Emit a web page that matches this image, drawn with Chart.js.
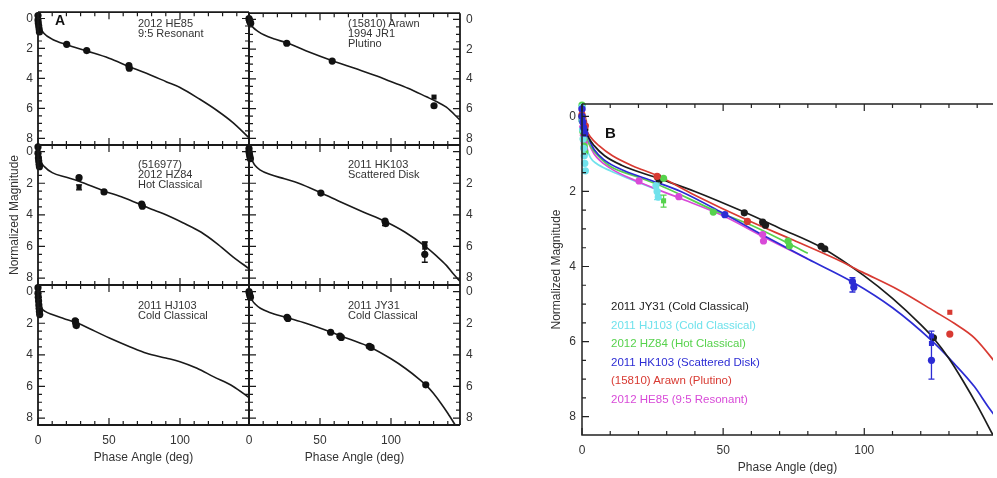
<!DOCTYPE html>
<html><head><meta charset="utf-8">
<script src="https://cdn.jsdelivr.net/npm/chart.js@4.4.0/dist/chart.umd.min.js"></script>
<style>
body{margin:0;background:#fff;}
#wrap{position:relative;width:997px;height:478px;overflow:hidden;font-family:"Liberation Sans",Arial,Helvetica,sans-serif;background:#fff;}
canvas{position:absolute;left:0;top:0;}
.note{position:absolute;font-size:11px;line-height:10px;color:#333;white-space:pre;}
.big{position:absolute;font-weight:bold;color:#111;line-height:1;}
.leg{position:absolute;left:611px;top:297px;font-size:11.5px;line-height:18.6px;white-space:nowrap;}
</style></head><body><div id="wrap">
<canvas id="a0" width="997" height="478"></canvas>
<canvas id="a1" width="997" height="478"></canvas>
<canvas id="a2" width="997" height="478"></canvas>
<canvas id="a3" width="997" height="478"></canvas>
<canvas id="a4" width="997" height="478"></canvas>
<canvas id="a5" width="997" height="478"></canvas>
<canvas id="b0" width="997" height="478"></canvas>
<div class="big" style="left:55px;top:13px;font-size:14px;">A</div>
<div class="big" style="left:605px;top:125px;font-size:15px;">B</div>
<div id="notes"></div>
<div class="leg" id="legend"></div>
</div>
<script>
// ---------- tick labels ----------
const xTicksA = [0, 50, 100];
const xTicksB = [0, 50, 100];
const yTicks = [0, 2, 4, 6, 8];

// ---------- 2011 JY31 (Cold Classical) ----------
const jy31ObsX = [0, 0.3, 0.6, 1.0, 26.8, 27.4, 57.5, 64, 65, 84.7, 86, 124.5];
const jy31ObsY = [0.0, 0.12, 0.25, 0.35, 1.62, 1.7, 2.57, 2.82, 2.9, 3.46, 3.53, 5.9];
const jy31FitX = [0, 0.5, 1.3, 2.5, 4.3, 8, 14, 27, 40, 57.5, 70, 85, 100, 110, 120, 125, 130, 135, 140, 146];
const jy31FitY = [0.0, 0.15, 0.35, 0.58, 0.78, 1.05, 1.3, 1.65, 2.0, 2.55, 2.98, 3.5, 4.25, 4.85, 5.55, 5.95, 6.45, 7.05, 7.7, 8.55];

// ---------- 2011 HJ103 (Cold Classical) ----------
const hj103ObsX = [0, 0, 0.2, 0.4, 0.6, 0.8, 1.0, 1.2, 26.2, 26.6, 27.0];
const hj103ObsY = [-0.25, 0.1, 0.35, 0.6, 0.85, 1.05, 1.25, 1.45, 1.85, 2.0, 2.15];
const hj103FitX = [0, 0.5, 1.5, 3, 5, 10, 18, 26.8, 40, 50.7, 65, 76.5, 90, 100, 112, 123.5, 137.5, 148.5];
const hj103FitY = [-0.2, 0.3, 0.8, 1.1, 1.25, 1.45, 1.7, 1.96, 2.5, 2.95, 3.5, 3.9, 4.2, 4.43, 4.85, 5.38, 6.0, 6.7];
const hj103ErrX = [26.6];
const hj103ErrLo = [1.78];
const hj103ErrHi = [2.22];

// ---------- (516977) 2012 HZ84 (Hot Classical) ----------
const hz84ObsX = [0, 0, 0.3, 0.5, 0.8, 1.0, 28.9, 28.9, 46.5, 73, 73.5];
const hz84ObsY = [-0.3, 0.1, 0.4, 0.6, 0.8, 0.95, 1.65, 2.25, 2.55, 3.32, 3.45];
const hz84Shape = ['circle','circle','circle','circle','circle','circle','circle','rect','circle','circle','circle'];
const hz84FitX = [0, 0.4, 1, 2, 4.3, 10, 20, 28.9, 46.7, 60, 73, 80, 88, 102, 115, 125.8, 137.5, 148.5];
const hz84FitY = [0.0, 0.2, 0.4, 0.65, 0.93, 1.33, 1.62, 1.88, 2.5, 2.9, 3.38, 3.65, 3.92, 4.5, 5.1, 5.8, 6.67, 7.4];
const hz84ErrX = [28.9];
const hz84ErrLo = [2.1];
const hz84ErrHi = [2.42];

// ---------- 2011 HK103 (Scattered Disk) ----------
const hk103ObsX = [0, 0, 0.3, 0.6, 1.0, 50.6, 95.8, 96.3, 123.8, 123.8, 123.8];
const hk103ObsY = [-0.2, 0.0, 0.15, 0.3, 0.45, 2.62, 4.4, 4.55, 5.85, 6.05, 6.5];
const hk103Shape = ['circle','circle','circle','circle','circle','circle','circle','circle','rect','rect','circle'];
const hk103FitX = [0, 0.7, 1.5, 3, 4.3, 7.7, 15, 25, 35, 50.5, 65, 80, 96, 110, 123.5, 132, 139, 144, 148.5];
const hk103FitY = [0.0, 0.15, 0.4, 0.7, 0.88, 1.15, 1.45, 1.72, 2.0, 2.6, 3.2, 3.8, 4.42, 5.1, 5.95, 6.6, 7.2, 7.75, 8.2];
const hk103ErrX = [123.8, 95.8];
const hk103ErrLo = [5.72, 4.3];
const hk103ErrHi = [7.0, 4.68];

// ---------- (15810) Arawn (Plutino) ----------
const arawnObsX = [0, 0.3, 0.6, 1.2, 26.6, 58.6, 130.3, 130.3];
const arawnObsY = [-0.05, 0.05, 0.15, 0.25, 1.6, 2.8, 5.22, 5.8];
const arawnShape = ['circle','circle','circle','circle','circle','circle','rect','circle'];
const arawnFitX = [0, 0.7, 1.5, 3, 6, 10.8, 18, 26.5, 40, 58.7, 75, 90, 99.3, 112, 125, 132, 139, 148.5];
const arawnFitY = [0.0, 0.15, 0.35, 0.55, 0.78, 1.05, 1.32, 1.57, 2.1, 2.77, 3.3, 3.8, 4.15, 4.62, 5.2, 5.52, 5.9, 6.75];

// ---------- 2012 HE85 (9:5 Resonant) ----------
const he85ObsX = [0, 0, 0.2, 0.5, 0.8, 1.0, 20.2, 34.3, 64, 64.3];
const he85ObsY = [-0.2, 0.1, 0.3, 0.5, 0.7, 0.9, 1.72, 2.14, 3.15, 3.32];
const he85FitX = [0, 0.5, 1, 2, 4.3, 10, 20.2, 34.3, 50, 64, 80, 90.6, 100, 114, 125.8, 137.5, 148.5];
const he85FitY = [0.0, 0.2, 0.4, 0.65, 1.0, 1.38, 1.75, 2.17, 2.65, 3.2, 3.8, 4.23, 4.6, 5.39, 6.12, 6.96, 7.95];

// ---------- names / labels ----------
const seriesNames = ['2011 JY31 (Cold Classical)', '2011 HJ103 (Cold Classical)', '2012 HZ84 (Hot Classical)',
                     '2011 HK103 (Scattered Disk)', '(15810) Arawn (Plutino)', '2012 HE85 (9:5 Resonant)'];
const seriesColors = ['#1c1c1c', '#70e2ec', '#56d24c', '#2c2cd4', '#d83a32', '#d84ad8'];
const fitLimitB = [999, 27, 80, 999, 999, 80];
const panelNotes = [['2012 HE85','9:5 Resonant'], ['(15810) Arawn','1994 JR1','Plutino'],
                    ['(516977)','2012 HZ84','Hot Classical'], ['2011 HK103','Scattered Disk'],
                    ['2011 HJ103','Cold Classical'], ['2011 JY31','Cold Classical']];

// ---------- build ----------
const pts = (xs, ys) => xs.map((x, i) => ({x, y: ys[i]}));
const objs = [
  {obs: pts(jy31ObsX, jy31ObsY), fit: pts(jy31FitX, jy31FitY), shape: 'circle', err: null},
  {obs: pts(hj103ObsX, hj103ObsY), fit: pts(hj103FitX, hj103FitY), shape: 'circle', err: {x: hj103ErrX, lo: hj103ErrLo, hi: hj103ErrHi}},
  {obs: pts(hz84ObsX, hz84ObsY), fit: pts(hz84FitX, hz84FitY), shape: hz84Shape, err: {x: hz84ErrX, lo: hz84ErrLo, hi: hz84ErrHi}},
  {obs: pts(hk103ObsX, hk103ObsY), fit: pts(hk103FitX, hk103FitY), shape: hk103Shape, err: {x: hk103ErrX, lo: hk103ErrLo, hi: hk103ErrHi}},
  {obs: pts(arawnObsX, arawnObsY), fit: pts(arawnFitX, arawnFitY), shape: arawnShape, err: null},
  {obs: pts(he85ObsX, he85ObsY), fit: pts(he85FitX, he85FitY), shape: 'circle', err: null}
];
// panel A grid: [objIndex, col, row, noteIndex]
const gridA = [[5,0,0,0],[4,1,0,1],[2,0,1,2],[3,1,1,3],[1,0,2,4],[0,1,2,5]];

const F = '"Liberation Sans", Arial, Helvetica, sans-serif';
Chart.defaults.font.family = F;
Chart.defaults.color = '#333';

function framePlugin(o) {
  return {
    id: 'frame',
    afterDatasetsDraw(chart) {
      const {ctx, chartArea: a} = chart;
      const xs = chart.scales.x, ys = chart.scales.y;
      ctx.save();
      ctx.strokeStyle = o.color;
      ctx.lineWidth = o.tickWidth;
      ctx.beginPath();
      for (let k = Math.ceil(xs.min / o.xMinor - 1e-9); k * o.xMinor <= xs.max + 1e-9; k++) {
        const v = k * o.xMinor, p = xs.getPixelForValue(v);
        const len = (Math.abs(v / o.xMajor - Math.round(v / o.xMajor)) < 1e-6) ? o.majorLen : o.minorLen;
        ctx.moveTo(p, a.bottom); ctx.lineTo(p, a.bottom - len);
        if (o.top) { ctx.moveTo(p, a.top); ctx.lineTo(p, a.top + len); }
      }
      for (let k = Math.ceil(ys.min / o.yMinor - 1e-9); k * o.yMinor <= ys.max + 1e-9; k++) {
        const v = k * o.yMinor, p = ys.getPixelForValue(v);
        const len = (Math.abs(v / o.yMajor - Math.round(v / o.yMajor)) < 1e-6) ? o.majorLen : o.minorLen;
        ctx.moveTo(a.left, p); ctx.lineTo(a.left + len, p);
        if (o.right) { ctx.moveTo(a.right, p); ctx.lineTo(a.right - len, p); }
      }
      ctx.stroke();
      ctx.lineWidth = o.width;
      ctx.beginPath();
      ctx.moveTo(a.left, a.top); ctx.lineTo(a.left, a.bottom); ctx.lineTo(a.right, a.bottom);
      if (o.right) { ctx.moveTo(a.right, a.bottom); ctx.lineTo(a.right, a.top); }
      if (o.top) { ctx.moveTo(a.left, a.top); ctx.lineTo(a.right, a.top); }
      ctx.stroke();
      ctx.restore();
    }
  };
}
function errPlugin(sets) {
  return {
    id: 'errbars',
    afterDatasetsDraw(chart) {
      const {ctx} = chart; const xs = chart.scales.x, ys = chart.scales.y;
      ctx.save();
      sets.forEach(s => {
        ctx.strokeStyle = s.color; ctx.lineWidth = 1.3; ctx.beginPath();
        s.x.forEach((xv, i) => {
          const px = xs.getPixelForValue(xv), p1 = ys.getPixelForValue(s.lo[i]), p2 = ys.getPixelForValue(s.hi[i]);
          ctx.moveTo(px, p1); ctx.lineTo(px, p2);
          ctx.moveTo(px - s.cap, p1); ctx.lineTo(px + s.cap, p1);
          ctx.moveTo(px - s.cap, p2); ctx.lineTo(px + s.cap, p2);
        });
        ctx.stroke();
      });
      ctx.restore();
    }
  };
}

const W = 997, H = 478;
const tickFont = {size: 12, family: F};

gridA.forEach(([oi, col, row, ni], idx) => {
  const ob = objs[oi];
  const L = [38, 249][col], R = [249, 460][col];
  const T = [5, 145, 285][row], B = [145, 285, 425][row];
  const bottomRow = row === 2;
  const yW = col === 0 ? 38 : 30, xH = bottomRow ? 53 : 0;
  const padding = {
    left: col === 0 ? L - yW : L,
    right: col === 0 ? W - R : W - R - yW,
    top: T,
    bottom: H - B - xH
  };
  const datasets = [
    {data: ob.obs, showLine: false, pointRadius: 3.6, pointStyle: ob.shape,
     backgroundColor: '#111', borderColor: '#111', borderWidth: 0, clip: false},
    {data: ob.fit, showLine: true, pointRadius: 0, borderColor: '#1a1a1a', borderWidth: 1.6,
     cubicInterpolationMode: 'monotone', fill: false}
  ];
  const plugins = [framePlugin({color: '#1a1a1a', width: 1.8, tickWidth: 1.2, top: true, right: true,
    xMinor: 10, xMajor: 50, yMinor: 0.5, yMajor: 2, minorLen: 4, majorLen: 7})];
  if (ob.err) plugins.push(errPlugin([Object.assign({color: '#111', cap: 3}, ob.err)]));
  new Chart(document.getElementById('a' + idx), {
    type: 'scatter',
    data: {datasets},
    plugins,
    options: {
      responsive: false, animation: false, events: [],
      layout: {padding},
      plugins: {legend: {display: false}, tooltip: {enabled: false}},
      scales: {
        x: {
          type: 'linear', min: 0, max: 148.6, display: bottomRow, position: 'bottom',
          grid: {display: false, drawTicks: false}, border: {display: false},
          ticks: {autoSkip: false, maxRotation: 0, padding: 8, color: '#333', font: tickFont},
          afterBuildTicks: s => { s.ticks = xTicksA.map(v => ({value: v})); },
          afterFit: s => { s.height = xH; },
          title: {display: true, text: 'Phase Angle (deg)', color: '#333', font: {size: 12, family: F},
                  padding: {top: 0, bottom: 13}}
        },
        y: {
          type: 'linear', reverse: true, min: -0.42, max: 8.44, position: col === 0 ? 'left' : 'right',
          grid: {display: false, drawTicks: false}, border: {display: false},
          ticks: {autoSkip: false, padding: col === 0 ? 5 : 6, color: '#333', font: tickFont},
          afterBuildTicks: s => { s.ticks = yTicks.map(v => ({value: v})); },
          afterFit: s => { s.width = yW; },
          title: {display: idx === 2, text: 'Normalized Magnitude', color: '#333',
                  font: {size: 12, family: F}, padding: {top: 7, bottom: 0}}
        }
      }
    }
  });
  const n = document.createElement('div');
  n.className = 'note';
  n.style.left = (col === 0 ? 138 : 348) + 'px';
  n.style.top = [18, 159, 300][row] + 'px';
  n.textContent = panelNotes[ni].join('\n');
  document.getElementById('notes').appendChild(n);
});

// ---------- panel B ----------
const dsB = [];
const drawOrderPts = [3, 1, 4, 2, 5, 0];
drawOrderPts.forEach(i => {
  dsB.push({data: objs[i].obs, showLine: false, pointRadius: 3.6, pointStyle: objs[i].shape,
            backgroundColor: seriesColors[i], borderColor: seriesColors[i], borderWidth: 0, clip: false});
});
[4, 0, 3, 2, 5, 1].forEach(i => {
  dsB.push({data: objs[i].fit.filter(p => p.x <= fitLimitB[i]), showLine: true, pointRadius: 0,
            borderColor: seriesColors[i], borderWidth: 1.7, cubicInterpolationMode: 'monotone', fill: false});
});
const errSetsB = [];
objs.forEach((ob, i) => { if (ob.err) errSetsB.push(Object.assign({color: seriesColors[i], cap: 3}, ob.err)); });

new Chart(document.getElementById('b0'), {
  type: 'scatter',
  data: {datasets: dsB},
  plugins: [errPlugin(errSetsB), framePlugin({color: '#222', width: 1.5, tickWidth: 1.2, top: true, right: false,
    xMinor: 10, xMajor: 50, yMinor: 0.5, yMajor: 2, minorLen: 4, majorLen: 7})],
  options: {
    responsive: false, animation: false, events: [],
    layout: {padding: {left: 540, right: 0, top: 104, bottom: 0}},
    plugins: {legend: {display: false}, tooltip: {enabled: false}},
    scales: {
      x: {
        type: 'linear', min: 0, max: 145.6, position: 'bottom',
        grid: {display: false, drawTicks: false}, border: {display: false},
        ticks: {autoSkip: false, maxRotation: 0, padding: 8, color: '#333', font: tickFont},
        afterBuildTicks: s => { s.ticks = xTicksB.map(v => ({value: v})); },
        afterFit: s => { s.height = 43; },
        title: {display: true, text: 'Phase Angle (deg)', color: '#333', font: {size: 12, family: F},
                padding: {top: 0, bottom: 3}}
      },
      y: {
        type: 'linear', reverse: true, min: -0.33, max: 8.49, position: 'left',
        grid: {display: false, drawTicks: false}, border: {display: false},
        ticks: {autoSkip: false, padding: 6, color: '#333', font: tickFont},
        afterBuildTicks: s => { s.ticks = yTicks.map(v => ({value: v})); },
        afterFit: s => { s.width = 42; },
        title: {display: true, text: 'Normalized Magnitude', color: '#333', font: {size: 12, family: F},
                padding: {top: 9, bottom: 0}}
      }
    }
  }
});

const leg = document.getElementById('legend');
seriesNames.forEach((nm, i) => {
  const d = document.createElement('div');
  d.textContent = nm; d.style.color = seriesColors[i];
  leg.appendChild(d);
});
</script>
</body></html>
